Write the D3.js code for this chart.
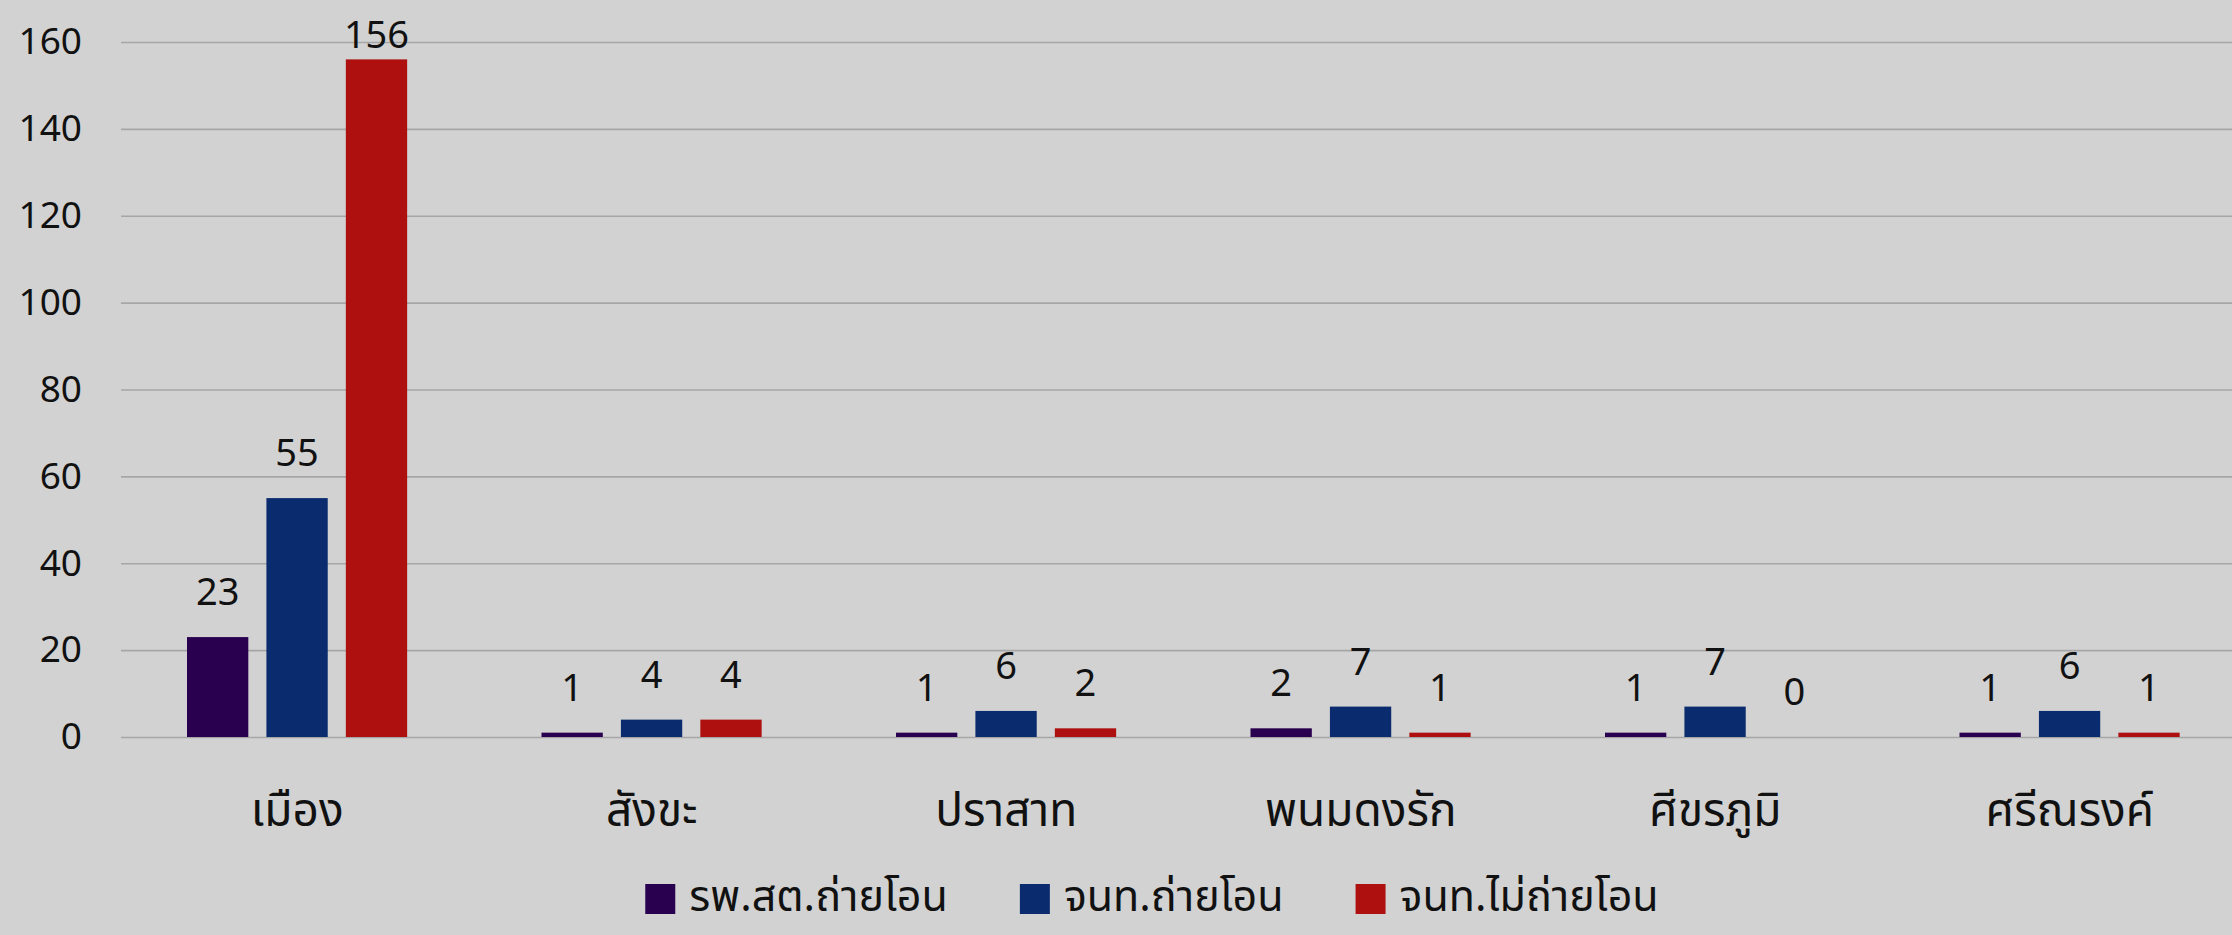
<!DOCTYPE html>
<html>
<head>
<meta charset="utf-8">
<script src="https://cdn.jsdelivr.net/npm/d3@7"></script>
<style>
  html, body { margin: 0; padding: 0; background: #d2d2d2; overflow: hidden; }
  svg text { font-family: "Noto Sans Thai", "Noto Sans", Roboto, sans-serif; fill: #111; }
</style>
</head>
<body>
<svg id="chart"></svg>
<script>
const width = 2232;
const height = 935;

// dati
const districts = ["เมือง", "สังขะ", "ปราสาท", "พนมดงรัก", "ศีขรภูมิ", "ศรีณรงค์"];
const seriesNames = ["รพ.สต.ถ่ายโอน", "จนท.ถ่ายโอน", "จนท.ไม่ถ่ายโอน"];
const seriesColors = ["#29004f", "#0a2b6e", "#ae1010"];
const hospTransferred = [23, 1, 1, 2, 1, 1];
const staffTransferred = [55, 4, 6, 7, 7, 6];
const staffNotTransferred = [156, 4, 2, 1, 0, 1];
const yTicks = [0, 20, 40, 60, 80, 100, 120, 140, 160];

const series = [hospTransferred, staffTransferred, staffNotTransferred];
const font = "\"Noto Sans Thai\", \"Noto Sans\", Roboto, sans-serif";

const svg = d3.select("#chart")
  .attr("width", width)
  .attr("height", height);

const x0 = d3.scaleBand()
  .domain(districts)
  .range([120, 2247]);

const x1 = d3.scaleBand()
  .domain(d3.range(seriesNames.length))
  .range([x0.bandwidth() * 0.189, x0.bandwidth() * 0.81])
  .paddingInner(0.228);

const y = d3.scaleLinear()
  .domain([0, 160])
  .range([737, 42]);

// griglia + etichette asse y
const yAxis = svg.append("g")
  .attr("transform", "translate(121,0)")
  .call(d3.axisLeft(y).tickValues(yTicks).tickSize(-(width - 121)).tickPadding(39));

yAxis.select(".domain").remove();
yAxis.selectAll(".tick line")
  .attr("stroke", "#a6a6a6")
  .attr("stroke-width", 1.6);
yAxis.selectAll(".tick text")
  .attr("font-size", 37)
  .attr("fill", "#111")
  .style("font-family", font);

// barre
const groups = svg.selectAll("g.group")
  .data(districts)
  .enter()
  .append("g")
  .attr("class", "group")
  .attr("transform", d => `translate(${x0(d)},0)`);

groups.each(function(d, i) {
  const g = d3.select(this);
  const vals = series.map(s => s[i]);

  g.selectAll("rect")
    .data(vals)
    .enter()
    .append("rect")
    .attr("x", (v, k) => x1(k))
    .attr("width", x1.bandwidth())
    .attr("y", v => y(v))
    .attr("height", v => y(0) - y(v))
    .attr("fill", (v, k) => seriesColors[k]);

  g.selectAll("text.val")
    .data(vals)
    .enter()
    .append("text")
    .attr("class", "val")
    .attr("x", (v, k) => x1(k) + x1.bandwidth() / 2)
    .attr("y", v => Math.max(y(v) - 32, 48))
    .attr("text-anchor", "middle")
    .attr("font-size", 38)
    .text(v => v);
});

// etichette categorie
const xAxis = svg.append("g")
  .attr("transform", "translate(0,737)")
  .call(d3.axisBottom(x0).tickSize(0).tickPadding(0));

xAxis.select(".domain").remove();
xAxis.selectAll(".tick text")
  .attr("dy", null)
  .attr("y", 89)
  .attr("font-size", 46)
  .attr("fill", "#111")
  .style("font-family", font);

// legenda
const legend = svg.append("g");
const items = legend.selectAll("g")
  .data(seriesNames)
  .enter()
  .append("g");

items.append("rect")
  .attr("width", 30)
  .attr("height", 30)
  .attr("y", 884)
  .attr("fill", (d, i) => seriesColors[i]);

items.append("text")
  .attr("x", 44)
  .attr("y", 911)
  .attr("font-size", 43)
  .text(d => d);

const widths = [];
items.each(function() {
  widths.push(44 + this.querySelector("text").getComputedTextLength());
});
const gap = 72;
const total = d3.sum(widths) + gap * (widths.length - 1);
let cursor = 1152 - total / 2;
items.attr("transform", (d, i) => {
  const tx = cursor;
  cursor += widths[i] + gap;
  return `translate(${tx},0)`;
});
</script>
</body>
</html>
